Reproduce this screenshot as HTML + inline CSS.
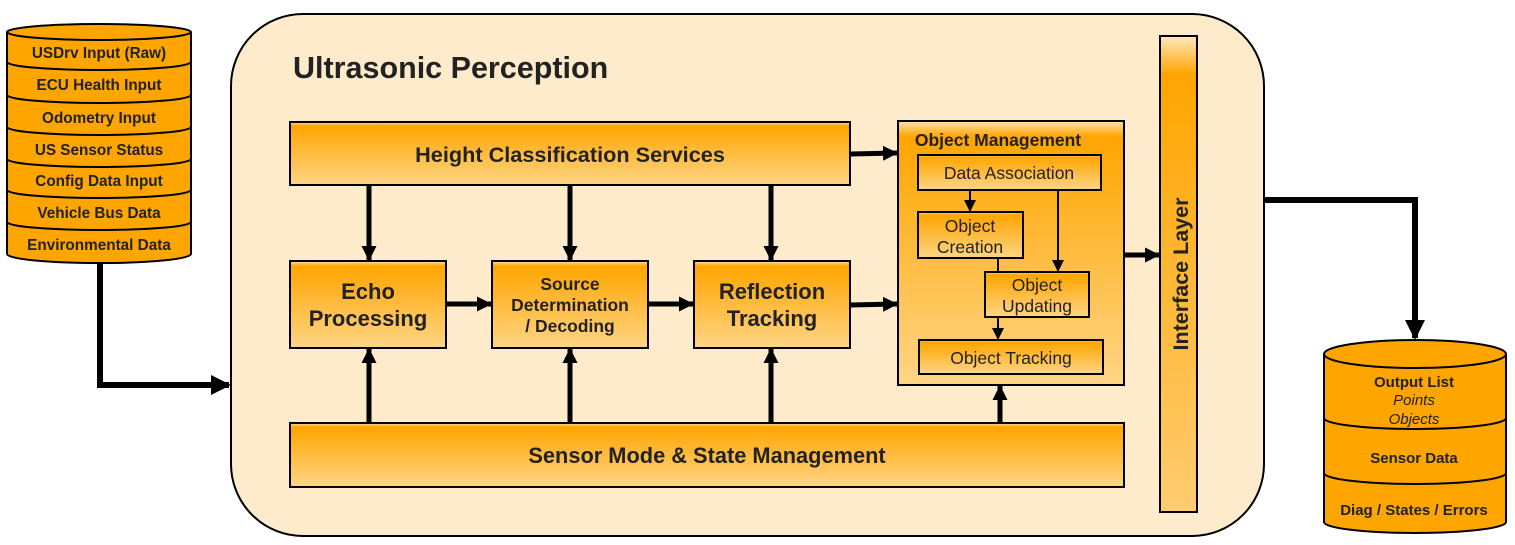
<!DOCTYPE html>
<html><head><meta charset="utf-8"><style>
html,body{margin:0;padding:0;background:#fff;}
svg{display:block;}
text{font-family:"Liberation Sans",Arial,sans-serif;fill:#222;}
</style></head><body>
<svg width="1515" height="545" viewBox="0 0 1515 545" xmlns="http://www.w3.org/2000/svg">
<defs>
<linearGradient id="g" x1="0" y1="0" x2="0" y2="1">
<stop offset="0" stop-color="#FFE2A8"/>
<stop offset="0.06" stop-color="#FFA500"/>
<stop offset="1" stop-color="#FFD586"/>
</linearGradient>
<linearGradient id="gv" x1="0" y1="0" x2="0" y2="1">
<stop offset="0" stop-color="#FFE8C0"/>
<stop offset="0.08" stop-color="#FFA500"/>
<stop offset="1" stop-color="#FFCC70"/>
</linearGradient>
<marker id="a" markerWidth="12" markerHeight="12" refX="11" refY="6" orient="auto" markerUnits="userSpaceOnUse" viewBox="0 0 12 12">
<path d="M0,0 L12,6 L0,12 z" fill="#000"/></marker>
<marker id="A" markerWidth="20" markerHeight="20" refX="18" refY="10" orient="auto" markerUnits="userSpaceOnUse" viewBox="0 0 20 20">
<path d="M0,0 L20,10 L0,20 z" fill="#000"/></marker>
<marker id="m" markerWidth="15" markerHeight="15" refX="14" refY="7.5" orient="auto" markerUnits="userSpaceOnUse" viewBox="0 0 15 15">
<path d="M0,0 L15,7.5 L0,15 z" fill="#000"/></marker>
</defs>

<rect x="231" y="14" width="1033" height="522" rx="72" ry="72" fill="#FEEBCB" stroke="#000" stroke-width="2"/>
<text x="293" y="78" font-size="30.5" font-weight="bold" fill="#000">Ultrasonic Perception</text>

<g stroke="#000" stroke-width="2" fill="#FFA500">
<path d="M7,32 L7,254 A92,9 0 0 0 191,254 L191,32"/>
<ellipse cx="99" cy="32" rx="92" ry="8"/>
<path d="M7,62 A92,8 0 0 0 191,62" fill="none"/>
<path d="M7,95 A92,8 0 0 0 191,95" fill="none"/>
<path d="M7,127 A92,8 0 0 0 191,127" fill="none"/>
<path d="M7,159 A92,8 0 0 0 191,159" fill="none"/>
<path d="M7,190 A92,8 0 0 0 191,190" fill="none"/>
<path d="M7,222 A92,8 0 0 0 191,222" fill="none"/>
</g>
<g font-size="15.3" font-weight="bold" text-anchor="middle">
<text x="99" y="58">USDrv Input (Raw)</text>
<text x="99" y="90">ECU Health Input</text>
<text x="99" y="123">Odometry Input</text>
<text x="99" y="155">US Sensor Status</text>
<text x="99" y="186">Config Data Input</text>
<text x="99" y="218">Vehicle Bus Data</text>
<text x="99" y="250">Environmental Data</text>
</g>
<path d="M100,263 L100,385 L229,385" fill="none" stroke="#000" stroke-width="6" marker-end="url(#A)"/>

<g stroke="#000" stroke-width="2" fill="url(#g)">
<rect x="290" y="122" width="560" height="63"/>
<rect x="290" y="261" width="156" height="87"/>
<rect x="492" y="261" width="156" height="87"/>
<rect x="694" y="261" width="156" height="87"/>
<rect x="290" y="423" width="834" height="64"/>
<rect x="898" y="121" width="226" height="264"/>
<rect x="1160" y="36" width="37" height="476" fill="url(#gv)"/>
<rect x="918" y="155" width="183" height="35"/>
<rect x="918" y="212" width="105" height="46"/>
<rect x="985" y="272" width="104" height="45"/>
<rect x="919" y="340" width="184" height="34"/>
</g>
<g font-weight="bold" text-anchor="middle">
<text x="570" y="162" font-size="21.7">Height Classification Services</text>
<text x="368" y="299" font-size="22">Echo</text>
<text x="368" y="326" font-size="22">Processing</text>
<text x="570" y="290" font-size="17.5">Source</text>
<text x="570" y="311" font-size="17.5">Determination</text>
<text x="570" y="332" font-size="17.5">/ Decoding</text>
<text x="772" y="299" font-size="22">Reflection</text>
<text x="772" y="326" font-size="22">Tracking</text>
<text x="707" y="463" font-size="21.8">Sensor Mode &amp; State Management</text>
<text x="998" y="146" font-size="17.5">Object Management</text>
<text transform="translate(1188,274) rotate(-90)" font-size="21.5">Interface Layer</text>
</g>
<g font-size="17.5" text-anchor="middle">
<text x="1009" y="179">Data Association</text>
<text x="970" y="232">Object</text>
<text x="970" y="253">Creation</text>
<text x="1037" y="291">Object</text>
<text x="1037" y="312">Updating</text>
<text x="1011" y="364">Object Tracking</text>
</g>

<g stroke="#000" stroke-width="5" fill="none" marker-end="url(#m)">
<line x1="369" y1="186" x2="369" y2="260"/>
<line x1="570" y1="186" x2="570" y2="260"/>
<line x1="771" y1="186" x2="771" y2="260"/>
<line x1="369" y1="423" x2="369" y2="349"/>
<line x1="570" y1="423" x2="570" y2="349"/>
<line x1="771" y1="423" x2="771" y2="349"/>
<line x1="1000" y1="423" x2="1000" y2="386"/>
<line x1="447" y1="304" x2="491" y2="304"/>
<line x1="649" y1="304" x2="693" y2="304"/>
<line x1="851" y1="305" x2="897" y2="304"/>
<line x1="851" y1="154" x2="897" y2="153"/>
<line x1="1125" y1="255" x2="1159" y2="255"/>
</g>
<path d="M1264,200 L1415,200 L1415,338" fill="none" stroke="#000" stroke-width="6" marker-end="url(#A)"/>

<g stroke="#000" stroke-width="2" fill="none" marker-end="url(#a)">
<line x1="970" y1="190" x2="970" y2="211"/>
<line x1="1058" y1="190" x2="1058" y2="271"/>
<line x1="998" y1="317" x2="998" y2="339"/>
</g>
<line x1="998" y1="258" x2="998" y2="272" stroke="#000" stroke-width="2"/>

<g stroke="#000" stroke-width="2" fill="#FFA500">
<path d="M1324,354 L1324,522 A91,11 0 0 0 1506,522 L1506,354"/>
<ellipse cx="1415" cy="354" rx="91" ry="14"/>
<path d="M1324,418 A91,11 0 0 0 1506,418" fill="none"/>
<path d="M1324,473 A91,11 0 0 0 1506,473" fill="none"/>
</g>
<g text-anchor="middle" font-size="15">
<text x="1414" y="387" font-weight="bold">Output List</text>
<text x="1414" y="405" font-style="italic">Points</text>
<text x="1414" y="424" font-style="italic">Objects</text>
<text x="1414" y="463" font-weight="bold">Sensor Data</text>
<text x="1414" y="515" font-weight="bold">Diag / States / Errors</text>
</g>
</svg>
</body></html>
